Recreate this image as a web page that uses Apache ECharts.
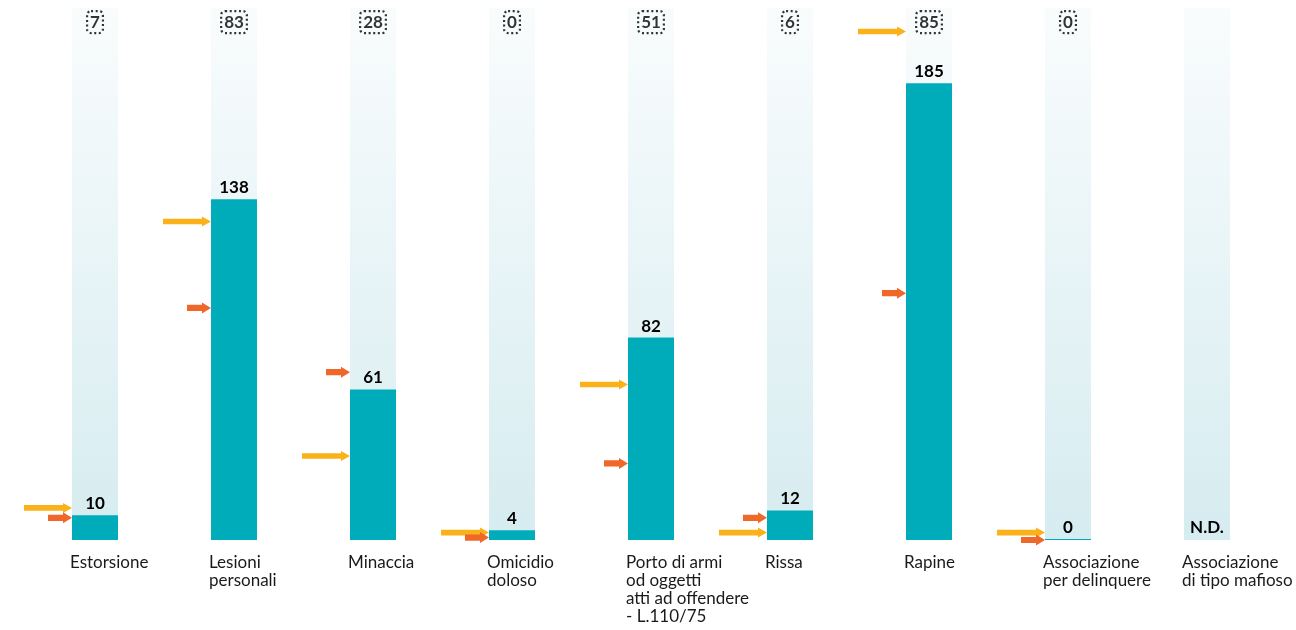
<!DOCTYPE html>
<html>
<head>
<meta charset="utf-8">
<script src="https://cdn.jsdelivr.net/npm/echarts@6/dist/echarts.min.js"></script>
<style>
html,body{margin:0;padding:0;background:#fff;}
#c{width:1296px;height:630px;}
</style>
</head>
<body>
<div id="c"></div>
<script>
const categories = ['Estorsione', 'Lesioni\npersonali', 'Minaccia', 'Omicidio\ndoloso', 'Porto di armi\nod oggetti\natti ad offendere\n- L.110/75', 'Rissa', 'Rapine', 'Associazione\nper delinquere', 'Associazione\ndi tipo mafioso'];
const values = [10, 138, 61, 4, 82, 12, 185, 0, null];
const topCounts = ['7', '83', '28', '0', '51', '6', '85', '0', ''];
const yellowMarks = [13, 129, 34, 3, 63, 3, 206, 3, null];
const redMarks = [9, 94, 68, 1, 31, 9, 100, 0, null];

const TEAL = '#00ACBA';
const YELLOW = '#FBB21A';
const RED = '#F0672A';
const FONT = 'Lato';
const Y_MAX = 215.5;
const TOP_ROW = 209.8; // vertical level of the boxed counts row

const barData = values.map(v => v === null
  ? { value: 0, itemStyle: { color: 'rgba(0,0,0,0)' }, label: { formatter: 'N.D.' } }
  : v);
const yellowData = yellowMarks.map((v, i) => v === null ? null : [i, v]).filter(Boolean);
const redData = redMarks.map((v, i) => v === null ? null : [i, v]).filter(Boolean);
const topData = topCounts.map((t, i) => t === '' ? null : { value: [i, TOP_ROW], name: t }).filter(Boolean);

const yellowArrow = 'path://M0,2.2 L39,2.2 L39,0 L48,5 L39,10 L39,7.8 L0,7.8 Z';
const redArrow = 'path://M0,2.4 L15,2.4 L15,0 L24,5.5 L15,11 L15,8.6 L0,8.6 Z';

const chart = echarts.init(document.getElementById('c'), null, { renderer: 'canvas' });
chart.setOption({
  animation: false,
  backgroundColor: '#ffffff',
  grid: { left: 25.5, right: 19.5, top: 8, bottom: 90, containLabel: false },
  xAxis: {
    type: 'category',
    data: categories,
    position: 'bottom',
    axisLine: { show: false },
    axisTick: { show: false },
    splitLine: { show: false },
    axisLabel: {
      interval: 0,
      margin: 14,
      align: 'center',
      verticalAlign: 'top',
      formatter: v => v.split('\n').map(s => '{a|' + s + '}').join('\n'),
      rich: {
        a: { width: 50, align: 'left', fontFamily: FONT, fontSize: 17, lineHeight: 18, color: '#1a1a1a' }
      }
    }
  },
  yAxis: {
    type: 'value',
    min: 0,
    max: Y_MAX,
    show: false,
    splitLine: { show: false }
  },
  series: [{
    type: 'bar',
    data: barData,
    barWidth: 46,
    barMinHeight: 1,
    itemStyle: { color: TEAL },
    showBackground: true,
    backgroundStyle: {
      color: new echarts.graphic.LinearGradient(0, 0, 0, 1, [
        { offset: 0, color: '#F9FCFD' },
        { offset: 1, color: '#D6ECF0' }
      ])
    },
    label: {
      show: true,
      position: 'top',
      distance: 3,
      fontFamily: FONT,
      fontSize: 17,
      fontWeight: 'bold',
      color: '#000'
    },
    z: 2
  }, {
    type: 'scatter',
    data: topData,
    symbolSize: 0,
    silent: true,
    label: {
      show: true,
      position: 'inside',
      formatter: p => '{b|' + p.name + '}',
      rich: {
        b: {
          fontFamily: FONT, fontSize: 17, fontWeight: 'bold', color: '#000',
          borderColor: '#000', borderWidth: 2.2, borderType: [2, 2.6], borderRadius: 4,
          padding: [3, 3, 2, 3], lineHeight: 18
        }
      }
    },
    z: 6
  }, {
    type: 'scatter',
    data: yellowData,
    symbol: yellowArrow,
    symbolSize: [48, 10],
    symbolOffset: [-47, 0],
    itemStyle: { color: YELLOW, opacity: 1 },
    z: 4
  }, {
    type: 'scatter',
    data: redData,
    symbol: redArrow,
    symbolSize: [24, 11],
    symbolOffset: [-35, 0],
    itemStyle: { color: RED, opacity: 1 },
    z: 5
  }]
});
</script>
</body>
</html>
